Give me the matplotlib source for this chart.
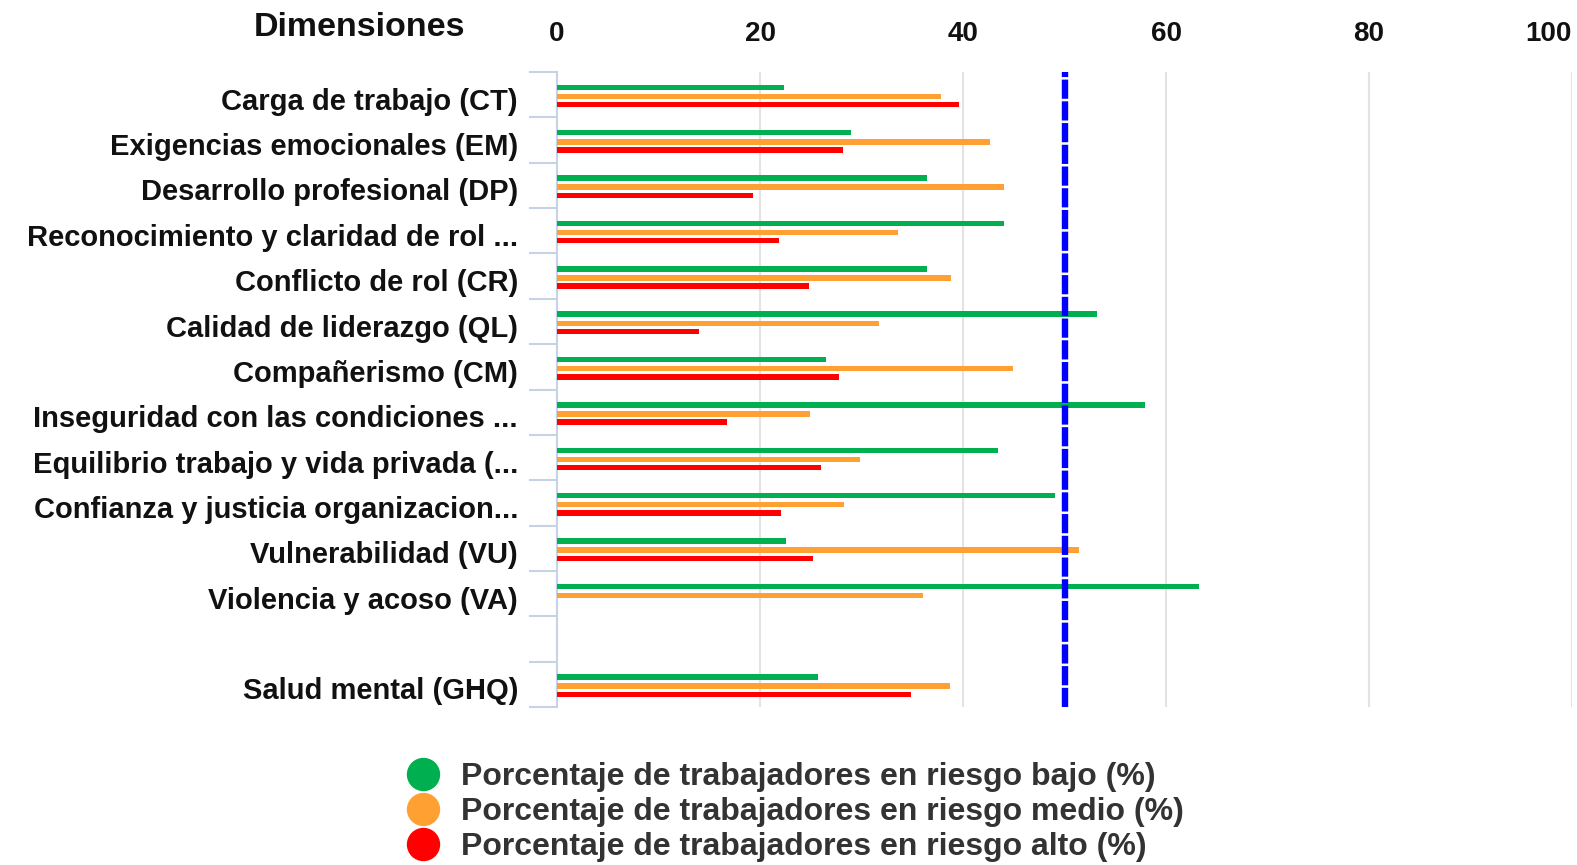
import numpy as np
import matplotlib
matplotlib.use("Agg")
import matplotlib.pyplot as plt
from matplotlib.lines import Line2D
from matplotlib.ticker import FixedLocator

categories = [
    "Carga de trabajo (CT)",
    "Exigencias emocionales (EM)",
    "Desarrollo profesional (DP)",
    "Reconocimiento y claridad de rol ...",
    "Conflicto de rol (CR)",
    "Calidad de liderazgo (QL)",
    "Compañerismo (CM)",
    "Inseguridad con las condiciones ...",
    "Equilibrio trabajo y vida privada (...",
    "Confianza y justicia organizacion...",
    "Vulnerabilidad (VU)",
    "Violencia y acoso (VA)",
    "",
    "Salud mental (GHQ)",
]
riesgo_bajo = [22.4, 29.0, 36.5, 44.0, 36.5, 53.2, 26.5, 57.9, 43.4, 49.1, 22.6, 63.3, 0, 25.7]
riesgo_medio = [37.8, 42.7, 44.0, 33.6, 38.8, 31.7, 44.9, 24.9, 29.9, 28.3, 51.4, 36.1, 0, 38.7]
riesgo_alto = [39.6, 28.2, 19.3, 21.9, 24.8, 14.0, 27.8, 16.7, 26.0, 22.1, 25.2, 0, 0, 34.9]
series_labels = [
    "Porcentaje de trabajadores en riesgo bajo (%)",
    "Porcentaje de trabajadores en riesgo medio (%)",
    "Porcentaje de trabajadores en riesgo alto (%)",
]
x_ticks = [0, 20, 40, 60, 80, 100]
reference_value = 50
axis_title = "Dimensiones"

colors = ["#00b050", "#ffa033", "#ff0000"]

plt.rcParams["font.family"] = ["Liberation Sans", "DejaVu Sans"]

W, H = 1577, 865
fig = plt.figure(figsize=(W / 100, H / 100), dpi=100)
top_px, bot_px, left_px, right_px = 72, 707, 557, 1572
ax = fig.add_axes([left_px / W, 1 - bot_px / H, (right_px - left_px) / W, (bot_px - top_px) / H])

n = len(categories)
y = np.arange(n)
bh = 0.12
offs = [-0.16, 0.04, 0.22]
for vals, off, c in zip([riesgo_bajo, riesgo_medio, riesgo_alto], offs, colors):
    ax.barh(y + off, vals, height=bh, color=c, linewidth=0, zorder=3)

ax.axvline(reference_value, color="#0000ff", lw=4.6, dashes=(3.0, 0.4), zorder=4, solid_capstyle="butt")

ax.set_xlim(0, 100)
ax.set_ylim(n - 0.5, -0.5)
ax.xaxis.tick_top()
ax.set_xticks(x_ticks)
ax.set_xticklabels([str(v) for v in x_ticks], fontsize=20, fontweight="bold", color="#111111")
xt = ax.get_xticklabels()
xt[-1].set_horizontalalignment("right")
ax.tick_params(axis="x", length=0, pad=18)
for v in x_ticks[1:]:
    ax.axvline(v, color="#e3e3e3", lw=1.5, zorder=1)

# labels sit slightly below the slot centre in the reference
ax.set_yticks(y + 0.09)
ax.set_yticklabels(categories, fontsize=21, fontweight="bold", color="#111111")
ax.yaxis.set_minor_locator(FixedLocator(np.arange(n + 1) - 0.5))
ax.tick_params(axis="y", which="major", length=0, pad=28)
ax.tick_params(axis="y", which="minor", length=20, width=1.5, color="#c8d2e6")

for s in ["top", "right", "bottom"]:
    ax.spines[s].set_visible(False)
ax.spines["left"].set_color("#c8d2e6")
ax.spines["left"].set_linewidth(1.5)

fig.text(359 / W, 1 - 27 / H, axis_title, ha="center", va="center",
         fontsize=24.5, fontweight="bold", color="#111111")

handles = [Line2D([], [], marker="o", linestyle="none", markersize=23, markerfacecolor=c,
                  markeredgecolor=c) for c in colors]
fig.legend(handles, series_labels, loc="center left", bbox_to_anchor=(388 / W, 1 - 812 / H),
           frameon=False, prop={"weight": "bold", "size": 23},
           labelspacing=0.15, handletextpad=0.6, handlelength=1.2, borderpad=0,
           labelcolor="#333333")

fig.savefig("out.png", dpi=100)
